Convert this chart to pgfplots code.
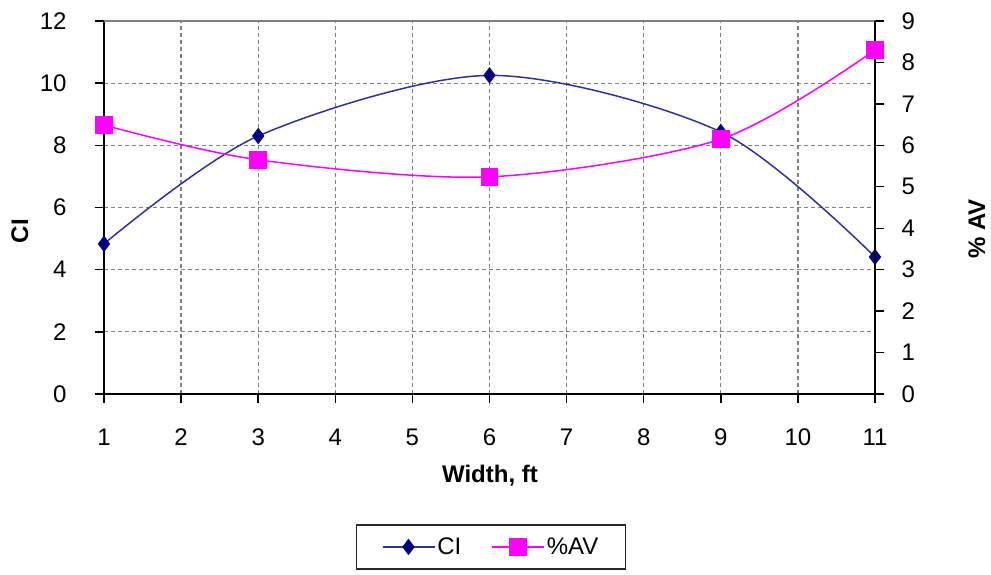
\documentclass[border=0pt]{standalone}
\usepackage{pgfplots}
\pgfplotsset{compat=1.18}
\usepackage{fontspec}
\setmainfont{Liberation Sans}
\definecolor{navyc}{RGB}{0,0,128}
\definecolor{navyl}{RGB}{50,50,150}
\definecolor{magc}{RGB}{255,0,255}
\definecolor{gridc}{RGB}{128,128,128}
\definecolor{legc}{RGB}{40,40,40}
\begin{document}
\begin{tikzpicture}[x=1pt,y=1pt]
\useasboundingbox (-104,-180) rectangle (887,394);
\pgfplotsset{
  every axis/.append style={
    scale only axis, width=771pt, height=373pt,
    at={(0,0)}, anchor=south west,
    font=\fontsize{24}{28}\selectfont,
    /pgf/number format/assume math mode=true,
    axis line style={black, line width=1.8pt},
    xmin=1, xmax=11,
  }
}
\begin{axis}[
  axis x line*=bottom, axis y line*=left,
  xtick align=outside, ytick align=outside, major tick length=9pt,
  every major tick/.append style={draw=black, line width=1.4pt},
  ymin=0, ymax=12, ytick={0,2,...,12},
  xtick={1,...,11},
  yticklabel style={anchor=east, xshift=-25pt},
  xticklabel style={anchor=center, yshift=-34pt},
  grid=major,
  major grid style={gridc, dash pattern=on 4pt off 3pt, line width=1.2pt},
  xlabel={\bfseries Width, ft},
  xlabel style={at={(axis description cs:0.5006,-0.219)}, anchor=center},
  ylabel={\bfseries CI},
  ylabel style={at={(axis description cs:-0.109,0.437)}, anchor=center, rotate=0},
  legend columns=2,
  legend style={at={(axis description cs:0.502,-0.410)}, anchor=center,
    draw=legc, line width=1.4pt, font=\fontsize{24}{28}\selectfont,
    inner xsep=25pt, inner ysep=11pt,
    /tikz/every even column/.append style={column sep=28pt}},
  legend image code/.code={
    \draw[#1, mark repeat=2, mark phase=2] plot coordinates {(0pt,0pt) (26pt,0pt) (52pt,0pt)};},
  after end axis/.code={\draw[gridc, line width=1.2pt] (rel axis cs:0,1) -- (rel axis cs:1,1);},
]
\addplot[navyl, line width=1.5pt, smooth, mark=diamond*, mark size=7pt,
  mark options={fill=navyc, draw=navyc, solid}]
  coordinates {(1,4.83) (3,8.30) (6,10.25) (9,8.43) (11,4.41)};
\addlegendentry{CI}
\addlegendimage{magc, line width=1.5pt, mark=square*, mark size=8pt, mark options={fill=magc, draw=magc, solid}}
\addlegendentry{\%AV}
\end{axis}
\begin{axis}[
  axis y line*=right, axis x line=none,
  ytick align=outside, major tick length=9pt,
  every major tick/.append style={draw=black, line width=1.4pt},
  ymin=0, ymax=9, ytick={0,...,9},
  yticklabel style={anchor=west, xshift=14pt},
  ylabel={\bfseries \% AV},
  ylabel style={at={(axis description cs:1.132,0.442)}, anchor=center, rotate=0},
]
\addplot[magc, line width=1.5pt, smooth, mark=square*, mark size=8pt,
  mark options={fill=magc, draw=magc, solid}]
  coordinates {(1,6.49) (3,5.65) (6,5.24) (9,6.15) (11,8.30)};
\end{axis}
\end{tikzpicture}
\end{document}
